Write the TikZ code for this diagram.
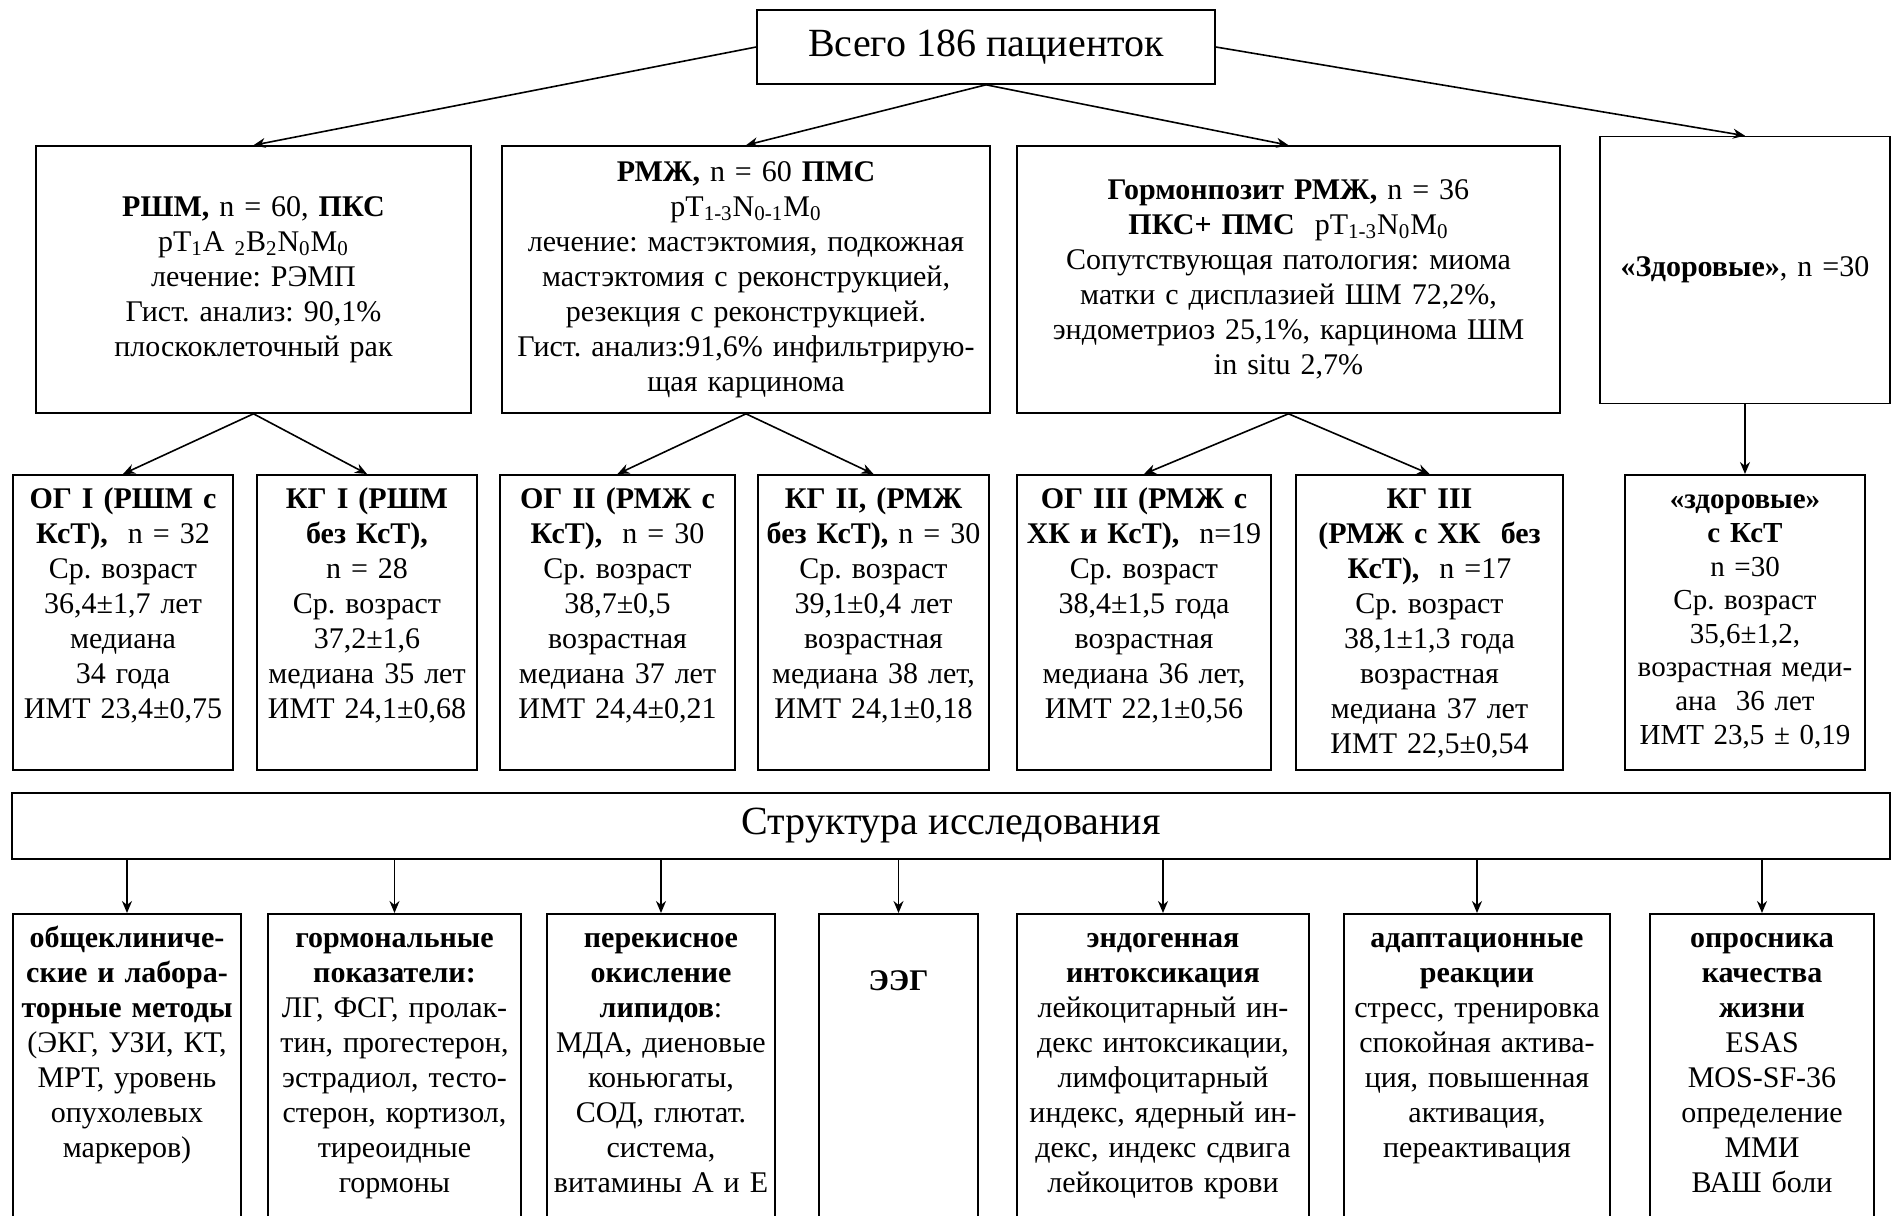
\documentclass[tikz,border=0pt]{standalone}
\usepackage{fontspec}
\setmainfont{Liberation Serif}
\usetikzlibrary{arrows.meta}
\frenchspacing
\tikzset{
  box/.style={draw, line width=0.8pt, align=center, inner xsep=2pt, inner ysep=4pt,
    font=\fontsize{15}{17.5}\selectfont},
  wd/.style={text width=#1*0.5pt-4pt},
  cohort/.style={box, wd=#1, minimum height=133.5pt},
  group/.style={box, wd=#1, anchor=north, text height=13pt, text depth=126.5pt},
  method/.style={box, wd=#1, anchor=north, text height=13pt, text depth=142pt},
  title/.style={draw, line width=0.8pt, font=\fontsize{20}{24}\selectfont},
}
\begin{document}
\begin{tikzpicture}[x=0.5pt, y=-0.5pt, >={Stealth[length=6pt,width=5pt]}, line width=0.8pt]
\useasboundingbox (0,0) rectangle (1892,1216);
\clip (0,0) rectangle (1892,1216);
% all patients
\node[title, minimum width=229pt, minimum height=37pt] (total) at (986,47) {Всего 186 пациенток};
% cohorts
\node[cohort=435] (rshm) at (253.5,279.5) {\textbf{РШМ,} n = 60, \textbf{ПКС}\\pT\textsubscript{1}A \textsubscript{2}B\textsubscript{2}N\textsubscript{0}M\textsubscript{0}\\лечение: РЭМП\\Гист. анализ: 90,1\%\\плоскоклеточный рак};
\node[cohort=488] (rmzh) at (746,279.5) {\textbf{РМЖ,} n = 60 \textbf{ПМС}\\pT\textsubscript{1-3}N\textsubscript{0-1}M\textsubscript{0}\\лечение: мастэктомия, подкожная\\мастэктомия с реконструкцией,\\резекция с реконструкцией.\\Гист. анализ:91,6\% инфильтрирую-\\щая карцинома};
\node[cohort=543] (gorm) at (1288.5,279.5) {\textbf{Гормонпозит РМЖ,} n = 36\\\textbf{ПКС+ ПМС}\ \ pT\textsubscript{1-3}N\textsubscript{0}M\textsubscript{0}\\Сопутствующая патология: миома\\матки с дисплазией ШМ 72,2\%,\\эндометриоз 25,1\%, карцинома ШМ\\in situ 2,7\%};
\node[cohort=290] (zdorov) at (1745,270) {\textbf{«Здоровые»}, n =30};
% groups
\node[group=220] (og1) at (123,474) {\textbf{ОГ I (РШМ с}\\\textbf{КсТ),}\ \ n = 32\\Ср. возраст\\36,4±1,7 лет\\медиана\\34 года\\ИМТ 23,4±0,75};
\node[group=220] (kg1) at (367,474) {\textbf{КГ I (РШМ}\\\textbf{без КсТ),}\\n = 28\\Ср. возраст\\37,2±1,6\\медиана 35 лет\\ИМТ 24,1±0,68};
\node[group=235] (og2) at (617.5,474) {\textbf{ОГ II (РМЖ с}\\\textbf{КсТ),}\ \ n = 30\\Ср. возраст\\38,7±0,5\\возрастная\\медиана 37 лет\\ИМТ 24,4±0,21};
\node[group=231] (kg2) at (873.5,474) {\textbf{КГ II, (РМЖ}\\\textbf{без КсТ),} n = 30\\Ср. возраст\\39,1±0,4 лет\\возрастная\\медиана 38 лет,\\ИМТ 24,1±0,18};
\node[group=254] (og3) at (1144,474) {\textbf{ОГ III (РМЖ с}\\\textbf{ХК и\ КсТ),}\ \ n=19\\Ср. возраст\\38,4±1,5 года\\возрастная\\медиана 36 лет,\\ИМТ 22,1±0,56};
\node[group=267] (kg3) at (1429.5,474) {\textbf{КГ III}\\\textbf{(РМЖ с ХК\ \ без}\\\textbf{КсТ),}\ \ n =17\\Ср. возраст\\38,1±1,3 года\\возрастная\\медиана 37 лет\\ИМТ 22,5±0,54};
\node[group=240, font=\fontsize{14.5}{16.8}\selectfont] (zdks) at (1745,474) {\textbf{«здоровые»}\\\textbf{с КсТ}\\n =30\\Ср. возраст\\35,6±1,2,\\возрастная меди-\\ана\ \ 36 лет\\ИМТ 23,5 ± 0,19};
% study structure
\node[title, minimum width=939pt, minimum height=33pt] (struct) at (951,826) {Структура исследования};
\node[method=228] (clin) at (127,913) {\textbf{общеклиниче-}\\\textbf{ские и лабора-}\\\textbf{торные методы}\\(ЭКГ, УЗИ, КТ,\\МРТ, уровень\\опухолевых\\маркеров)};
\node[method=253] (horm) at (394.5,913) {\textbf{гормональные}\\\textbf{показатели:}\\ЛГ, ФСГ, пролак-\\тин, прогестерон,\\эстрадиол, тесто-\\стерон, кортизол,\\тиреоидные\\гормоны};
\node[method=228] (lpo) at (661,913) {\textbf{перекисное}\\\textbf{окисление}\\\textbf{липидов}:\\МДА, диеновые\\коньюгаты,\\СОД, глютат.\\система,\\витамины А и Е};
\node[method=159, text height=34.5pt, text depth=120.5pt] (eeg) at (898.5,913) {\textbf{ЭЭГ}};
\node[method=292] (intox) at (1163,913) {\textbf{эндогенная}\\\textbf{интоксикация}\\лейкоцитарный ин-\\декс интоксикации,\\лимфоцитарный\\индекс, ядерный ин-\\декс, индекс сдвига\\лейкоцитов крови};
\node[method=266] (adapt) at (1477,913) {\textbf{адаптационные}\\\textbf{реакции}\\стресс, тренировка\\спокойная актива-\\ция, повышенная\\активация,\\переактивация};
\node[method=224] (qol) at (1762,913) {\textbf{опросника}\\\textbf{качества}\\\textbf{жизни}\\ESAS\\MOS-SF-36\\определение\\ММИ\\ВАШ боли};
\draw[->] (total.west) -- (rshm.north);
\draw[->] (total.south) -- (rmzh.north);
\draw[->] (total.south) -- (gorm.north);
\draw[->] (total.east) -- (zdorov.north);
\draw[->] (rshm.south) -- (og1.north);
\draw[->] (rshm.south) -- (kg1.north);
\draw[->] (rmzh.south) -- (og2.north);
\draw[->] (rmzh.south) -- (kg2.north);
\draw[->] (gorm.south) -- (og3.north);
\draw[->] (gorm.south) -- (kg3.north);
\draw[->] (zdorov.south) -- (zdks.north);
\draw[->] (clin.north |- struct.south) -- (clin.north);
\draw[->] (horm.north |- struct.south) -- (horm.north);
\draw[->] (lpo.north |- struct.south) -- (lpo.north);
\draw[->] (eeg.north |- struct.south) -- (eeg.north);
\draw[->] (intox.north |- struct.south) -- (intox.north);
\draw[->] (adapt.north |- struct.south) -- (adapt.north);
\draw[->] (qol.north |- struct.south) -- (qol.north);
\end{tikzpicture}
\end{document}
